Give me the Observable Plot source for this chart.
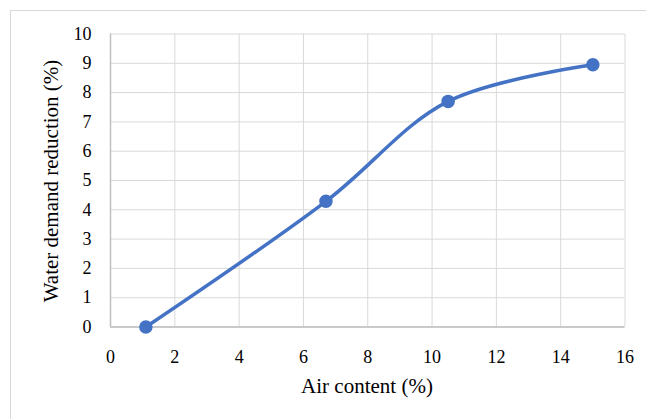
<!DOCTYPE html>
<html>
<head>
<meta charset="utf-8">
<script src="https://cdn.jsdelivr.net/npm/d3@7"></script>
<script src="https://cdn.jsdelivr.net/npm/@observablehq/plot@0.6"></script>
<style>
  html, body { margin: 0; padding: 0; background: #fff; }
  #wrap { position: relative; width: 646px; height: 419px; }
  #frame { position: absolute; left: 10px; top: 10px; right: 0; bottom: 0;
           border-top: 1px solid #d9d9d9; border-left: 1px solid #d9d9d9; pointer-events: none; }
</style>
</head>
<body>
<div id="wrap"><div id="frame"></div></div>
<script>
const airContent = [1.1, 6.7, 10.5, 15.0];
const waterReduction = [0, 4.29, 7.7, 8.95];
const xTicks = [0, 2, 4, 6, 8, 10, 12, 14, 16];
const yTicks = [0, 1, 2, 3, 4, 5, 6, 7, 8, 9, 10];

const data = airContent.map((x, i) => ({x, y: waterReduction[i]}));
const blue = "#4472c4";
const serif = "'Liberation Serif', 'DejaVu Serif', serif";

const chart = Plot.plot({
  width: 646,
  height: 419,
  marginLeft: 110,
  marginRight: 21.5,
  marginTop: 33.5,
  marginBottom: 92.5,
  style: {fontFamily: serif, fontSize: "18px", color: "#000", background: "transparent"},
  x: {domain: [0, 16], axis: null},
  y: {domain: [0, 10], axis: null},
  marks: [
    Plot.ruleX(xTicks, {stroke: "#d9d9d9", strokeWidth: 1}),
    Plot.ruleY(yTicks, {stroke: "#d9d9d9", strokeWidth: 1}),
    Plot.ruleX([0], {stroke: "#bfbfbf", strokeWidth: 1.5}),
    Plot.ruleY([0], {stroke: "#bfbfbf", strokeWidth: 1.5}),
    Plot.text(xTicks, {x: d => d, y: 0, dy: 30, text: d => String(d), fontSize: 18, fontFamily: serif, fill: "#000"}),
    Plot.text(yTicks, {x: 0, y: d => d, dx: -19, text: d => String(d), textAnchor: "end", fontSize: 18, fontFamily: serif, fill: "#000"}),
    Plot.line(data, {x: "x", y: "y", stroke: blue, strokeWidth: 3.5, curve: "catmull-rom"}),
    Plot.dot(data, {x: "x", y: "y", r: 6, fill: blue, stroke: blue})
  ]
});

const svg = d3.select(chart);
svg.append("text")
  .attr("x", 367).attr("y", 393)
  .attr("text-anchor", "middle")
  .attr("font-family", serif)
  .style("font-size", "21px")
  .text("Air content (%)");
svg.append("text")
  .attr("transform", "translate(58,181) rotate(-90)")
  .attr("text-anchor", "middle")
  .attr("font-family", serif)
  .style("font-size", "21px")
  .text("Water demand reduction (%)");

document.getElementById("wrap").prepend(chart);
chart.style.position = "absolute";
chart.style.left = "0";
chart.style.top = "0";
</script>
</body>
</html>
